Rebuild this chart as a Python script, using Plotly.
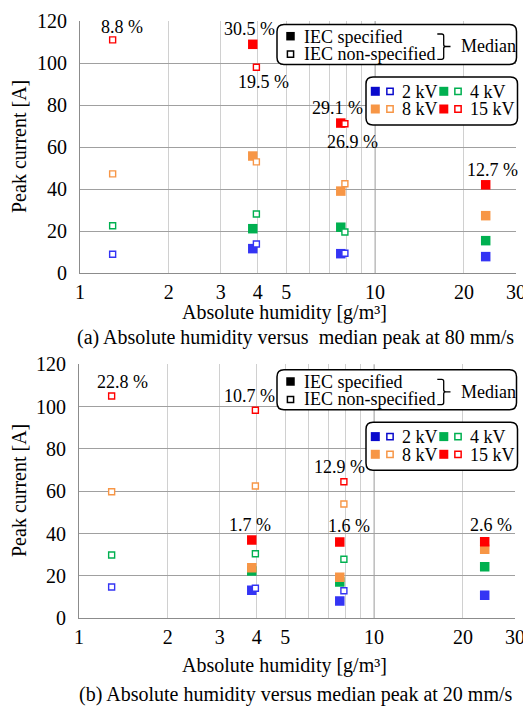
import numpy as np
import plotly.graph_objects as go

W, H = 523, 706
FONT = "Liberation Serif"

# ---------------- data ----------------
x_spec = [3.85, 7.65, 23.7]        # IEC specified (filled)
x_nonspec = [1.29, 3.96, 7.9]      # IEC non-specified (open)
voltages = ["2 kV", "4 kV", "8 kV", "15 kV"]

# (a) 80 mm/s
a_spec_2kv = [11.6, 9.2, 7.8]
a_spec_4kv = [21.1, 21.8, 15.4]
a_spec_8kv = [55.7, 39.0, 27.3]
a_spec_15kv = [108.9, 71.4, 42.0]
a_non_2kv = [8.9, 13.8, 9.4]
a_non_4kv = [22.5, 28.1, 19.5]
a_non_8kv = [47.2, 52.9, 42.5]
a_non_15kv = [111.0, 98.0, 71.1]

# (b) 20 mm/s
b_spec_2kv = [13.2, 8.2, 10.9]
b_spec_4kv = [22.4, 17.2, 24.4]
b_spec_8kv = [23.9, 19.4, 32.6]
b_spec_15kv = [37.0, 36.0, 36.2]
b_non_2kv = [14.8, 14.2, 13.0]
b_non_4kv = [29.9, 30.5, 27.9]
b_non_8kv = [59.8, 62.5, 54.0]
b_non_15kv = [105.0, 98.3, 64.5]

# percentage labels
a_pct_text = ["8.8 %", "30.5 %", "19.5 %", "29.1 %", "26.9 %", "12.7 %"]
a_pct_x = [1.39, 3.74, 4.2, 7.43, 8.41, 24.9]
a_pct_y = [117.1, 116.2, 91.0, 78.6, 62.4, 49.0]
b_pct_text = ["22.8 %", "10.7 %", "12.9 %", "1.7 %", "1.6 %", "2.6 %"]
b_pct_x = [1.40, 3.79, 7.62, 3.79, 8.24, 24.8]
b_pct_y = [111.8, 105.0, 71.6, 44.0, 43.6, 44.0]

x_tickvals = [1, 2, 3, 4, 5, 10, 20, 30]
x_ticktext = ["1", "2", "3", "4", "5", "10", "20", "30"]
x_minor_grid = [2, 3, 4, 5, 6, 7, 8, 9, 20, 30]
y_tickvals = [0, 20, 40, 60, 80, 100, 120]

data_colors = ["#3434f4", "#00b050", "#f79646", "#ff0000"]
legend_colors = ["#0a0acc", "#00b050", "#f79646", "#ff0000"]


def px(x):
    return x / W


def py(y):
    return 1 - y / H


fig = go.Figure()


def add_panel(xa, ya, spec, non, pct_text, pct_x, pct_y):
    for vals, col, name in zip(spec, data_colors, voltages):
        fig.add_trace(go.Scatter(
            x=x_spec, y=vals, mode="markers", name=name, xaxis=xa, yaxis=ya,
            marker=dict(symbol="square", size=9.5, color=col, line=dict(width=0)),
            showlegend=False, hoverinfo="x+y"))
    for vals, col, name in zip(non, data_colors, voltages):
        fig.add_trace(go.Scatter(
            x=x_nonspec, y=vals, mode="markers", name=name, xaxis=xa, yaxis=ya,
            marker=dict(symbol="square", size=6, color="white",
                        line=dict(width=1.4, color=col)),
            showlegend=False, hoverinfo="x+y"))
    for t, xv, yv in zip(pct_text, pct_x, pct_y):
        fig.add_annotation(x=np.log10(xv), y=yv, xref=xa, yref=ya, text=t,
                           showarrow=False, xanchor="center", yanchor="middle",
                           font=dict(family=FONT, size=18, color="black"))
    # darker major gridline at 10
    fig.add_shape(type="line", xref=xa, yref=ya + " domain", x0=10, x1=10,
                  y0=0, y1=1, layer="below",
                  line=dict(color="#9a9a9a", width=1))


add_panel("x", "y",
          [a_spec_2kv, a_spec_4kv, a_spec_8kv, a_spec_15kv],
          [a_non_2kv, a_non_4kv, a_non_8kv, a_non_15kv],
          a_pct_text, a_pct_x, a_pct_y)
add_panel("x2", "y2",
          [b_spec_2kv, b_spec_4kv, b_spec_8kv, b_spec_15kv],
          [b_non_2kv, b_non_4kv, b_non_8kv, b_non_15kv],
          b_pct_text, b_pct_x, b_pct_y)

xaxis_common = dict(
    type="log", range=[0, np.log10(30.02)], tickmode="array",
    tickvals=x_tickvals, ticktext=x_ticktext, showgrid=False,
    minor=dict(tickmode="array", tickvals=x_minor_grid, showgrid=True,
               gridcolor="#d0d0d0", gridwidth=1, ticks=""),
    showline=True, linecolor="#8c8c8c", automargin=False,
    ticklabeloverflow="allow",
    linewidth=1, ticks="", zeroline=False, ticklabelstandoff=1,
    tickfont=dict(family=FONT, size=20, color="black"), fixedrange=True)
yaxis_common = dict(
    range=[0, 120], tickmode="array", tickvals=y_tickvals, showgrid=True,
    gridcolor="#a0a0a0", gridwidth=1, showline=True, linecolor="#8c8c8c",
    linewidth=1, ticks="", zeroline=False, ticklabelstandoff=8,
    automargin=False, ticklabeloverflow="allow",
    tickfont=dict(family=FONT, size=20, color="black"), fixedrange=True)

fig.update_layout(
    width=W, height=H, margin=dict(l=0, r=0, t=0, b=0, autoexpand=False),
    paper_bgcolor="white", plot_bgcolor="white", showlegend=False,
    font=dict(family=FONT, size=18, color="black"),
    xaxis=dict(xaxis_common, domain=[px(80), px(516)], anchor="y"),
    yaxis=dict(yaxis_common, domain=[py(273), py(21)], anchor="x"),
    xaxis2=dict(xaxis_common, domain=[px(79), px(515)], anchor="y2"),
    yaxis2=dict(yaxis_common, domain=[py(618.3), py(364.3)], anchor="x2"),
)


def txt(x, y, text, size=18, xanchor="left", angle=0):
    fig.add_annotation(x=px(x), y=py(y), xref="paper", yref="paper", text=text,
                       showarrow=False, xanchor=xanchor, yanchor="middle",
                       textangle=angle,
                       font=dict(family=FONT, size=size, color="black"))


def rrect(x0, y0, x1, y1, r=7):
    p = (f"M {px(x0 + r)},{py(y0)} L {px(x1 - r)},{py(y0)} "
         f"Q {px(x1)},{py(y0)} {px(x1)},{py(y0 + r)} "
         f"L {px(x1)},{py(y1 - r)} Q {px(x1)},{py(y1)} {px(x1 - r)},{py(y1)} "
         f"L {px(x0 + r)},{py(y1)} Q {px(x0)},{py(y1)} {px(x0)},{py(y1 - r)} "
         f"L {px(x0)},{py(y0 + r)} Q {px(x0)},{py(y0)} {px(x0 + r)},{py(y0)} Z")
    fig.add_shape(type="path", path=p, xref="paper", yref="paper",
                  fillcolor="white", line=dict(color="black", width=1.5),
                  layer="above")


def sq(cx, cy, size, fill, line_col, lw=0):
    h = size / 2
    fig.add_shape(type="rect", xref="paper", yref="paper",
                  x0=px(cx - h), x1=px(cx + h), y0=py(cy + h), y1=py(cy - h),
                  fillcolor=fill, line=dict(color=line_col, width=lw),
                  layer="above")


def legend_block(dy):
    # box 1
    rrect(277, 24.5 + dy, 516.5, 64.5 + dy)
    sq(290.5, 36.2 + dy, 8.5, "black", "black", 0)
    sq(290.5, 54.2 + dy, 6.2, "white", "black", 1.5)
    txt(301.5, 36.5 + dy, "IEC specified")
    txt(301.5, 54.0 + dy, "IEC non-specified")
    bx, by0, by1, bm = 437.3, 34 + dy, 59.3 + dy, 46.5 + dy
    s = 443.7
    bp = (f"M {px(bx)},{py(by0)} L {px(s - 2)},{py(by0)} "
          f"Q {px(s)},{py(by0)} {px(s)},{py(by0 + 2)} L {px(s)},{py(bm - 2)} "
          f"Q {px(s)},{py(bm)} {px(s + 2)},{py(bm)} L {px(450.5)},{py(bm)} "
          f"M {px(s + 2)},{py(bm)} Q {px(s)},{py(bm)} {px(s)},{py(bm + 2)} "
          f"L {px(s)},{py(by1 - 2)} Q {px(s)},{py(by1)} {px(s - 2)},{py(by1)} "
          f"L {px(bx)},{py(by1)}")
    fig.add_shape(type="path", path=bp, xref="paper", yref="paper",
                  line=dict(color="black", width=1.3), layer="above")
    txt(458.5, 46.5 + dy, "Median")
    # box 2
    rrect(366, 77 + dy, 517.5, 125 + dy)
    cols_x = [(375.3, 390.0, 400.0), (443.8, 458.0, 468.3)]
    rows_y = [91.3, 109.0]
    for i, (name, col) in enumerate(zip(voltages, legend_colors)):
        r, c = divmod(i, 2)
        fx, ox, tx = cols_x[c]
        yy = rows_y[r] + dy
        sq(fx, yy, 9, col, col, 0)
        sq(ox, yy, 6.3, "white", col, 1.5)
        txt(tx, yy + 0.5, name)


legend_block(0)
legend_block(345.3)

# axis titles and captions
txt(284, 312, "Absolute humidity [g/m³]", size=20, xanchor="center")
txt(284, 665, "Absolute humidity [g/m³]", size=20, xanchor="center")
txt(19, 147, "Peak current [A]", size=20, xanchor="center", angle=-90)
txt(19, 491, "Peak current [A]", size=20, xanchor="center", angle=-90)
txt(295.5, 337, "(a) Absolute humidity versus\u00a0 median peak at 80 mm/s",
    size=20, xanchor="center")
txt(295.5, 694, "(b) Absolute humidity versus median peak at 20 mm/s",
    size=20, xanchor="center")

fig.write_html("out.html")
